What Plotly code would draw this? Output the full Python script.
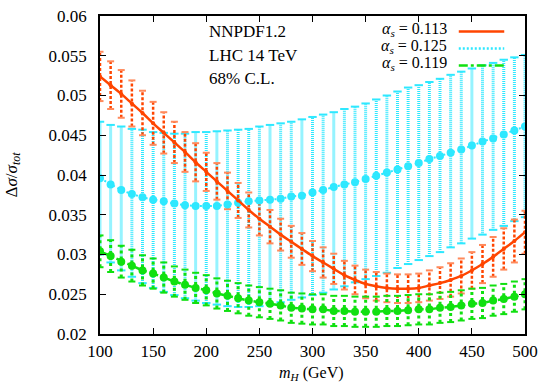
import plotly.graph_objects as go

# ---------------- data ----------------
m_H = list(range(100, 501, 10))

# alpha_s = 0.113 (orange)
orange_c = [0.0524, 0.0513, 0.0502, 0.0490, 0.0478, 0.0465, 0.0453, 0.0441, 0.0429, 0.0416,
            0.0404, 0.0392, 0.0380, 0.0368, 0.0356, 0.0345, 0.0335, 0.0325, 0.0316, 0.0307,
            0.0298, 0.0290, 0.0282, 0.0274, 0.0268, 0.0263, 0.0260, 0.0258, 0.0257, 0.0257,
            0.0258, 0.0261, 0.0264, 0.0268, 0.0273, 0.0280, 0.0288, 0.0297, 0.0307, 0.0317,
            0.0328]
orange_err = [0.0031, 0.0030, 0.0030, 0.0029, 0.0028, 0.0027, 0.0026, 0.0026, 0.0025, 0.0024,
              0.0024, 0.0023, 0.0023, 0.0022, 0.0022, 0.0021, 0.0021, 0.0020, 0.0020, 0.0020,
              0.0019, 0.0019, 0.0019, 0.0018, 0.0018, 0.0018, 0.0018, 0.0018, 0.0018, 0.0018,
              0.0018, 0.0019, 0.0020, 0.0021, 0.0022, 0.0023, 0.0024, 0.0025, 0.0026, 0.0027,
              0.0027]

# alpha_s = 0.125 (cyan)
cyan_c = [0.0396, 0.0388, 0.0381, 0.0376, 0.0372, 0.0369, 0.0367, 0.0364, 0.0362, 0.0361,
          0.0361, 0.0361, 0.0363, 0.0365, 0.0367, 0.0368, 0.0369, 0.0370, 0.0373, 0.0374,
          0.0378, 0.0381, 0.0385, 0.0388, 0.0391, 0.0395, 0.0399, 0.0403, 0.0407, 0.0411,
          0.0415, 0.0420, 0.0424, 0.0428, 0.0432, 0.0437, 0.0442, 0.0446, 0.0451, 0.0456,
          0.0461]
cyan_hi = [0.0467, 0.0463, 0.0461, 0.0458, 0.0457, 0.0454, 0.0453, 0.0452, 0.0452, 0.0454,
           0.0454, 0.0455, 0.0456, 0.0457, 0.0458, 0.0461, 0.0463, 0.0465, 0.0467, 0.0470,
           0.0473, 0.0476, 0.0479, 0.0483, 0.0486, 0.0490, 0.0495, 0.0500, 0.0505, 0.0510,
           0.0513, 0.0517, 0.0521, 0.0526, 0.0530, 0.0534, 0.0538, 0.0541, 0.0545, 0.0548,
           0.0551]
cyan_lo = [0.0300, 0.0290, 0.0280, 0.0272, 0.0264, 0.0258, 0.0253, 0.0249, 0.0245, 0.0242,
           0.0239, 0.0237, 0.0235, 0.0234, 0.0234, 0.0235, 0.0237, 0.0240, 0.0243, 0.0246,
           0.0249, 0.0252, 0.0256, 0.0260, 0.0265, 0.0269, 0.0273, 0.0277, 0.0283, 0.0288,
           0.0293, 0.0298, 0.0303, 0.0309, 0.0314, 0.0320, 0.0325, 0.0331, 0.0336, 0.0342,
           0.0347]

# alpha_s = 0.119 (green)
green_c = [0.0304, 0.0298, 0.0291, 0.0286, 0.0280, 0.0276, 0.0271, 0.0266, 0.0262, 0.0258,
           0.0255, 0.0251, 0.0248, 0.0245, 0.0242, 0.0240, 0.0238, 0.0236, 0.0233, 0.0232,
           0.0231, 0.0231, 0.0229, 0.0229, 0.0228, 0.0228, 0.0228, 0.0229, 0.0229, 0.0230,
           0.0231, 0.0231, 0.0233, 0.0234, 0.0236, 0.0238, 0.0239, 0.0242, 0.0244, 0.0247,
           0.0250]
green_err = [0.0020, 0.0020, 0.0020, 0.0020, 0.0019, 0.0019, 0.0019, 0.0019, 0.0019, 0.0019,
             0.0019, 0.0019, 0.0019, 0.0019, 0.0019, 0.0019, 0.0019, 0.0019, 0.0019, 0.0019,
             0.0019, 0.0019, 0.0019, 0.0019, 0.0019, 0.0019, 0.0019, 0.0019, 0.0019, 0.0019,
             0.0019, 0.0019, 0.0019, 0.0019, 0.0019, 0.0019, 0.0019, 0.0019, 0.0019, 0.0019,
             0.0019]

x_ticks = [100, 150, 200, 250, 300, 350, 400, 450, 500]
y_ticks = [0.02, 0.025, 0.03, 0.035, 0.04, 0.045, 0.05, 0.055, 0.06]
y_ticktext = ["0.02", "0.025", "0.03", "0.035", "0.04", "0.045", "0.05", "0.055", "0.06"]
legend_labels = ["0.113", "0.125", "0.119"]
info_lines = ["NNPDF1.2", "LHC 14 TeV", "68% C.L."]

# ---------------- styles ----------------
ORANGE = "#ff4500"
CYAN = "#2ee8ff"
GREEN = "#10e010"
FONT = "Liberation Serif"
FS = 17

lo_o = [c - e for c, e in zip(orange_c, orange_err)]
hi_o = [c + e for c, e in zip(orange_c, orange_err)]
lo_g = [c - e for c, e in zip(green_c, green_err)]
hi_g = [c + e for c, e in zip(green_c, green_err)]


def bars(xs, lo, hi):
    bx, by = [], []
    for x, a, b in zip(xs, lo, hi):
        bx += [x, x, None]
        by += [a, b, None]
    return bx, by


fig = go.Figure()


def add_bars(lo, hi, color, width, dash, capcolor, capsize):
    bx, by = bars(m_H, lo, hi)
    fig.add_trace(go.Scatter(x=bx, y=by, mode="lines", showlegend=False, hoverinfo="skip",
                             line=dict(color=color, width=width, dash=dash)))
    fig.add_trace(go.Scatter(x=m_H + m_H, y=list(lo) + list(hi), mode="markers",
                             showlegend=False, hoverinfo="skip",
                             marker=dict(symbol="line-ew", size=capsize,
                                         line=dict(color=capcolor, width=2))))


add_bars(cyan_lo, cyan_hi, CYAN, 3, "1px,1px", CYAN, 6)
add_bars(lo_o, hi_o, ORANGE, 2.5, "3px,2px", "#ff8a5c", 5)
add_bars(lo_g, hi_g, GREEN, 3, "3px,3px", GREEN, 5)

# central values
fig.add_trace(go.Scatter(x=m_H, y=cyan_c, mode="lines+markers", showlegend=False,
                         line=dict(color=CYAN, width=2, dash="2px,3px"),
                         marker=dict(symbol="circle", size=8, color=CYAN)))
fig.add_trace(go.Scatter(x=m_H, y=green_c, mode="lines+markers", showlegend=False,
                         line=dict(color=GREEN, width=2.5, dash="dashdot"),
                         marker=dict(symbol="circle", size=8, color=GREEN)))
fig.add_trace(go.Scatter(x=m_H, y=orange_c, mode="lines+markers", showlegend=False,
                         line=dict(color=ORANGE, width=2.5, shape="spline"),
                         marker=dict(symbol="circle", size=4, color=ORANGE)))

# ---------------- layout ----------------
L, R, T, B = 100, 15, 7, 51
W, H = 545, 385
pw, ph = W - L - R, H - T - B


def px2paper_x(px):
    return (px - L) / pw


def py2paper_y(py):
    return (H - B - py) / ph


annotations = []
for i, txt in enumerate(info_lines):
    annotations.append(dict(text=txt, x=px2paper_x(208), y=py2paper_y(23 + 24.3 * i),
                            xref="paper", yref="paper", xanchor="left", yanchor="middle",
                            showarrow=False, font=dict(family=FONT, size=FS, color="black")))

leg_rows = [21, 38.5, 56]
leg_colors = [ORANGE, CYAN, GREEN]
leg_dash = ["solid", "2px,2px", "dashdot"]
shapes = []
for i, lab in enumerate(legend_labels):
    annotations.append(dict(text="<i>α</i><sub><i>s</i></sub> = " + lab,
                            x=px2paper_x(453), y=py2paper_y(leg_rows[i]),
                            xref="paper", yref="paper", xanchor="right", yanchor="middle",
                            showarrow=False, font=dict(family=FONT, size=16, color="black")))
    shapes.append(dict(type="line", xref="paper", yref="paper",
                       x0=px2paper_x(463), x1=px2paper_x(509),
                       y0=py2paper_y(leg_rows[i] + 2), y1=py2paper_y(leg_rows[i] + 2),
                       line=dict(color=leg_colors[i], width=2.5, dash=leg_dash[i])))

annotations.append(dict(text="Δ<i>σ</i>/<i>σ</i><sub><i>tot</i></sub>",
                        x=px2paper_x(11), y=py2paper_y(170), xref="paper", yref="paper",
                        xanchor="center", yanchor="middle", textangle=-90, showarrow=False,
                        font=dict(family=FONT, size=FS, color="black")))
annotations.append(dict(text="<i>m</i><sub><i>H</i></sub> (GeV)",
                        x=px2paper_x(314), y=py2paper_y(386), xref="paper", yref="paper",
                        xanchor="center", yanchor="bottom", showarrow=False,
                        font=dict(family=FONT, size=16, color="black")))

axis_common = dict(showgrid=False, zeroline=False, showline=True, linecolor="black",
                   linewidth=1.5, mirror="ticks", ticks="inside", ticklen=6, tickwidth=1,
                   tickcolor="black", tickfont=dict(family=FONT, size=FS, color="black"),
                   ticklabeloverflow="allow")

fig.update_layout(
    width=W, height=H,
    margin=dict(l=L, r=R, t=T, b=B),
    paper_bgcolor="white", plot_bgcolor="white",
    showlegend=False,
    xaxis=dict(range=[100, 500], tickvals=x_ticks, ticklabelstandoff=1, **axis_common),
    yaxis=dict(range=[0.02, 0.06], tickvals=y_ticks, ticktext=y_ticktext,
               ticklabelstandoff=8, **axis_common),
    annotations=annotations,
    shapes=shapes,
)

fig.write_html("out.html", config={"displayModeBar": False},
               post_script="document.body.style.margin='0px';document.body.style.padding='0px';")
